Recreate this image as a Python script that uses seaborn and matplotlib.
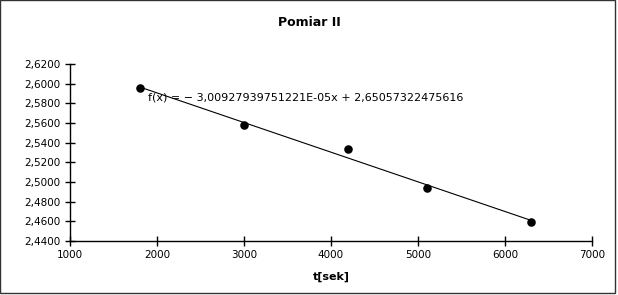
import matplotlib
matplotlib.use("Agg")
import matplotlib.pyplot as plt
import seaborn as sns
import numpy as np
import pandas as pd
from matplotlib.ticker import FuncFormatter, MultipleLocator
from matplotlib.patches import Rectangle

t_sek = [1800, 3000, 4200, 5100, 6300]
values = [2.5955, 2.5575, 2.5335, 2.4935, 2.4595]
title = "Pomiar II"
xlabel = "t[sek]"
equation = "f(x) = \u2212 3,00927939751221E-05x + 2,65057322475616"

df = pd.DataFrame({"t": t_sek, "v": values})

sns.set_style("white")
plt.rcParams['font.family'] = ['DejaVu Sans']
plt.rcParams['text.color'] = 'black'
plt.rcParams['xtick.color'] = 'black'
plt.rcParams['ytick.color'] = 'black'
plt.rcParams['axes.labelcolor'] = 'black'

fig = plt.figure(figsize=(6.18, 2.95), dpi=100)
ax = fig.add_axes([70/618, 54/295, (592-70)/618, (241-64)/295])

sns.regplot(data=df, x="t", y="v", ax=ax, ci=None,
            scatter_kws=dict(s=38, color="black", zorder=3, linewidths=0, alpha=1),
            line_kws=dict(color="black", lw=0.8))

ax.set_xlim(1000, 7000)
ax.set_ylim(2.44, 2.62)
ax.xaxis.set_major_locator(MultipleLocator(1000))
ax.yaxis.set_major_locator(MultipleLocator(0.02))
ax.yaxis.set_major_formatter(FuncFormatter(lambda v, p: f"{v:.4f}".replace('.', ',')))
ax.xaxis.set_major_formatter(FuncFormatter(lambda v, p: f"{int(round(v))}"))
ax.tick_params(axis='both', direction='inout', length=7.5, width=1, colors='black',
               labelsize=7.5, pad=3, left=True, bottom=True)
for s in ["top", "right"]:
    ax.spines[s].set_visible(False)
for s in ["left", "bottom"]:
    ax.spines[s].set_color("black")
    ax.spines[s].set_linewidth(1)

ax.set_xlabel(xlabel, fontsize=8, fontweight='bold', labelpad=8, color='black')
ax.set_ylabel("")
fig.text(309/618, 1 - 22/295, title, ha='center', va='center', fontsize=9,
         fontweight='bold', color='black')
ax.text(1900, 2.5855, equation, fontsize=8, va='center', ha='left', color='black')

fig.patches.append(Rectangle((0.0008, 0.006), 0.995, 0.9925, transform=fig.transFigure,
                             fill=False, edgecolor='#333333', lw=1))

fig.savefig("out.png", dpi=100)
